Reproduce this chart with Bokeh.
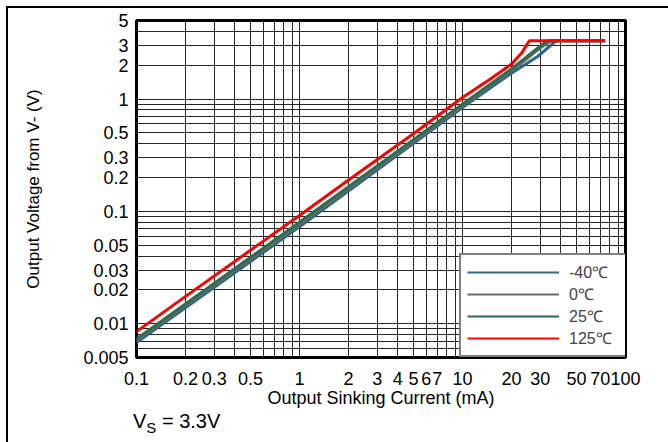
import numpy as np
from bokeh.plotting import figure
from bokeh.models import FixedTicker, Legend, LegendItem, Div
from bokeh.layouts import column
from bokeh.embed import file_html
from bokeh.resources import INLINE

# ---- data ----
x_ticks = [0.1, 0.2, 0.3, 0.5, 1, 2, 3, 4, 5, 6, 7, 10, 20, 30, 50, 70, 100]
x_tick_labels = ["0.1", "0.2", "0.3", "0.5", "1", "2", "3", "4", "5", "6", "7",
                 "10", "20", "30", "50", "70", "100"]
y_ticks = [0.005, 0.01, 0.02, 0.03, 0.05, 0.1, 0.2, 0.3, 0.5, 1, 2, 3, 5]
y_tick_labels = ["0.005", "0.01", "0.02", "0.03", "0.05", "0.1", "0.2", "0.3",
                 "0.5", "1", "2", "3", "5"]

series_names = ["-40\u2103", "0\u2103", "25\u2103", "125\u2103"]
series_colors = ["#2f6686", "#6a6a6a", "#2e6b4f", "#ff0000"]

i_m40 = [0.1, 1, 10, 20, 28.9, 37.5, 75]
v_m40 = [0.0068, 0.073, 0.84, 1.70, 2.39, 3.3, 3.3]

i_0 = [0.1, 1, 10, 20, 25, 30, 35, 75]
v_0 = [0.0071, 0.077, 0.87, 1.80, 2.30, 2.85, 3.3, 3.3]

i_25 = [0.1, 1, 10, 20, 25, 30, 33.3, 75]
v_25 = [0.0073, 0.080, 0.90, 1.85, 2.40, 2.95, 3.3, 3.3]

i_125 = [0.1, 0.2, 0.5, 1, 2, 5, 10, 15, 20, 23, 25.7, 75]
v_125 = [0.0085, 0.0175, 0.045, 0.092, 0.19, 0.49, 1.03, 1.52, 2.05, 2.55, 3.3, 3.3]

series_i = [i_m40, i_0, i_25, i_125]
series_v = [v_m40, v_0, v_25, v_125]

vs_main, vs_sub, vs_rest = "V", "S", " = 3.3V"

# ---- figure ----
FONT = "Liberation Sans"
BL, BT, FW, FH, BR, BB = 128, 12, 489, 337, 43, 53
p = figure(x_axis_type="log", y_axis_type="log",
           x_range=(0.1, 100), y_range=(0.005, 5),
           frame_width=FW, frame_height=FH,
           min_border_left=BL, min_border_top=BT,
           min_border_right=BR, min_border_bottom=BB,
           output_backend="svg", toolbar_location=None)

p.outline_line_color = "black"
p.outline_line_width = 3

grid_x = [m * 10.0 ** e for e in range(-1, 2) for m in range(1, 10)] + [100]
grid_y = [m * 10.0 ** e for e in range(-3, 1) for m in range(1, 10)]
grid_y = [g for g in grid_y if 0.005 <= g <= 5]

p.xaxis.ticker = FixedTicker(ticks=x_ticks)
p.yaxis.ticker = FixedTicker(ticks=y_ticks)
p.xaxis.major_label_overrides = {t: l for t, l in zip(x_ticks, x_tick_labels)}
p.yaxis.major_label_overrides = {t: l for t, l in zip(y_ticks, y_tick_labels)}
p.xgrid.ticker = FixedTicker(ticks=grid_x)
p.ygrid.ticker = FixedTicker(ticks=grid_y)
for g in (p.xgrid, p.ygrid):
    g.grid_line_color = "black"
    g.grid_line_width = 1
    g.grid_line_alpha = 0.85

for ax in (p.xaxis, p.yaxis):
    ax.axis_line_color = None
    ax.major_tick_line_color = None
    ax.minor_tick_line_color = None
    ax.major_label_text_font = FONT
    ax.major_label_text_font_size = "18px"
    ax.major_label_text_color = "black"
    ax.axis_label_text_font = FONT
    ax.axis_label_text_font_style = "normal"
    ax.axis_label_text_color = "black"

p.xaxis.axis_label = "Output Sinking Current (mA)"
p.yaxis.axis_label = "Output Voltage from V- (V)"
p.xaxis.axis_label_text_font_size = "18px"
p.yaxis.axis_label_text_font_size = "17px"
p.xaxis.major_label_standoff = 8
p.xaxis.axis_label_standoff = 0
p.yaxis.major_label_standoff = 2
p.yaxis.axis_label_standoff = 37

items = []
for name, col, xs, ys in zip(series_names, series_colors, series_i, series_v):
    p.line(xs, ys, line_color=col, line_width=3)
    dummy = p.line([np.nan], [np.nan], line_color=col, line_width=2)
    items.append(LegendItem(label=name, renderers=[dummy]))

legend = Legend(items=items, location=(323, 0), margin=0,
                padding=6, spacing=0, glyph_width=92, glyph_height=18,
                label_height=18, label_standoff=10, label_width=51,
                label_text_font=FONT, label_text_font_size="16px",
                label_text_line_height=1.0,
                border_line_color="black", border_line_width=2,
                background_fill_color="white", background_fill_alpha=1)
p.add_layout(legend)

note = Div(
    text=(f'<div style="position:relative;top:-6px;padding-left:120px;'
          f'font-family:\'{FONT}\';font-size:20px;line-height:24px;color:black;'
          f'white-space:nowrap;">'
          f'{vs_main}<sub style="font-size:15px;">{vs_sub}</sub>{vs_rest}</div>'),
    width=650, height=30)

layout = column(p, note, spacing=0, margin=(6, 0, 0, 6),
                styles={"border-left": "2px solid black",
                        "border-top": "2px solid black"})

open("out.html", "w").write(file_html(layout, INLINE))
